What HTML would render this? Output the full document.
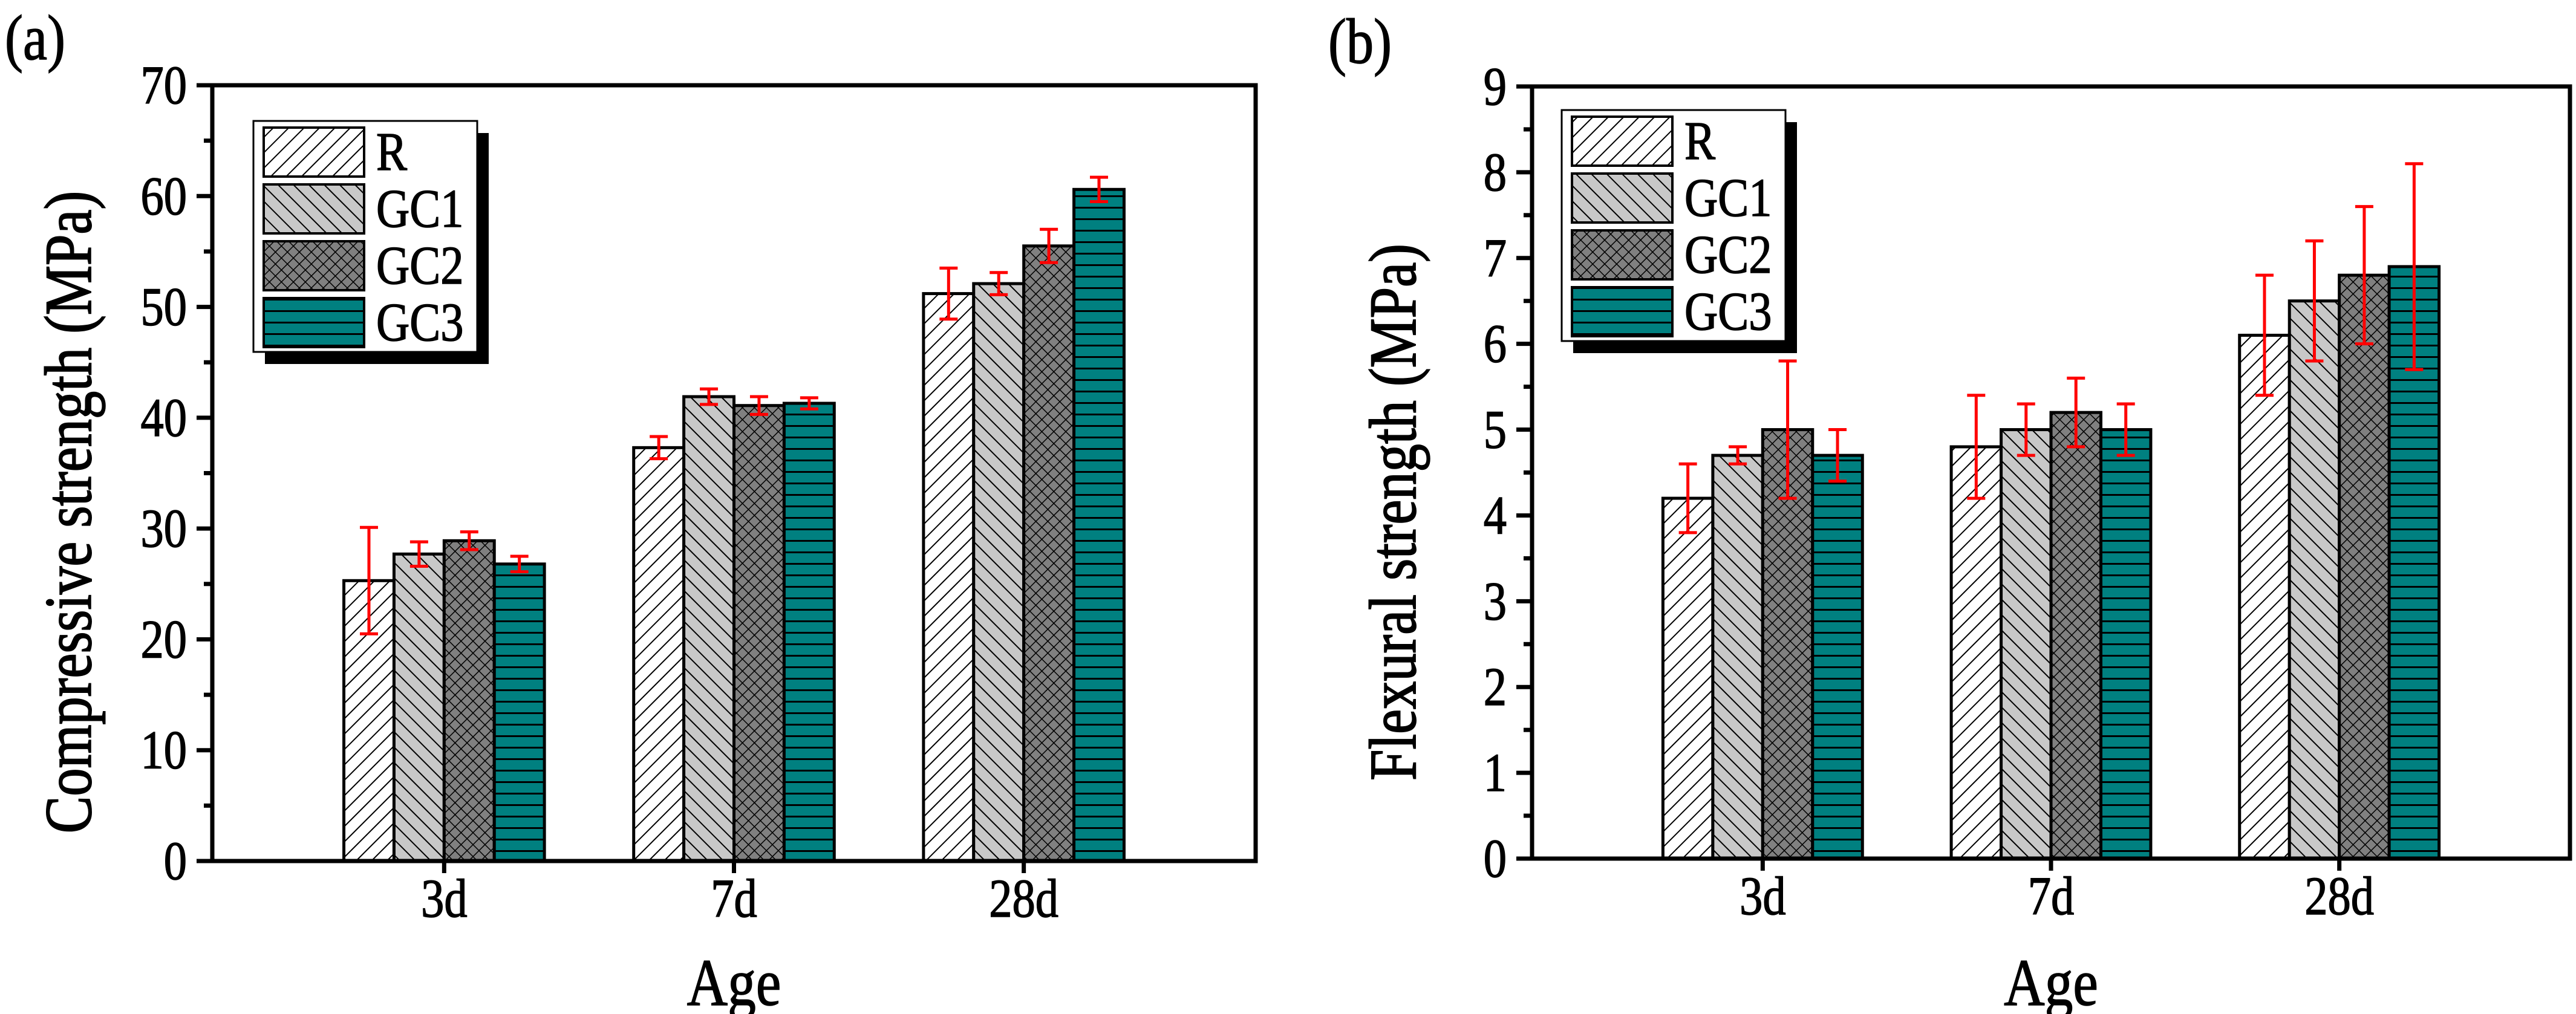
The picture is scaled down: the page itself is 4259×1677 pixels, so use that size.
<!DOCTYPE html>
<html><head><meta charset="utf-8">
<style>
html,body{margin:0;padding:0;background:#fff;}
svg{display:block;font-family:"Liberation Serif","Times New Roman",serif;}
</style></head>
<body>
<svg id="fig" width="4259" height="1677" viewBox="0 0 4259 1677" xmlns="http://www.w3.org/2000/svg">
<defs>
<pattern id="pR" patternUnits="userSpaceOnUse" width="18" height="18" patternTransform="rotate(45)"><rect width="18" height="18" fill="#fff"/><line x1="0" y1="0" x2="0" y2="18" stroke="#000" stroke-width="4"/></pattern>
<pattern id="pG1" patternUnits="userSpaceOnUse" width="18" height="18" patternTransform="rotate(-45)"><rect width="18" height="18" fill="#c8c8c8"/><line x1="0" y1="0" x2="0" y2="18" stroke="#000" stroke-width="4"/></pattern>
<pattern id="pG2" patternUnits="userSpaceOnUse" width="14" height="14" patternTransform="rotate(45)"><rect width="14" height="14" fill="#808080"/><line x1="0" y1="0" x2="0" y2="14" stroke="#000" stroke-width="3"/><line x1="0" y1="0" x2="14" y2="0" stroke="#000" stroke-width="3"/></pattern>
<pattern id="pG3" patternUnits="userSpaceOnUse" width="20" height="19"><rect width="20" height="19" fill="#008080"/><line x1="0" y1="1" x2="20" y2="1" stroke="#000" stroke-width="4"/></pattern>
</defs>
</svg>
<script>
const categories = ["3d","7d","28d"];
const seriesNames = ["R","GC1","GC2","GC3"];
const compValues = [[25.3,37.3,51.2],[27.7,41.9,52.1],[28.9,41.1,55.5],[26.8,41.3,60.6]];
const compErrors = [[4.8,1.0,2.3],[1.1,0.7,1.0],[0.8,0.8,1.5],[0.7,0.5,1.1]];
const flexValues = [[4.2,4.8,6.1],[4.7,5.0,6.5],[5.0,5.2,6.8],[4.7,5.0,6.9]];
const flexErrors = [[0.4,0.6,0.7],[0.1,0.3,0.7],[0.8,0.4,0.8],[0.3,0.3,1.2]];
const compTicks = [0,10,20,30,40,50,60,70];
const flexTicks = [0,1,2,3,4,5,6,7,8,9];

const NS = "http://www.w3.org/2000/svg";
const svg = document.getElementById("fig");
const fills = ["url(#pR)","url(#pG1)","url(#pG2)","url(#pG3)"];
function mk(tag, attrs, parent, text){
  const e = document.createElementNS(NS, tag);
  for (const k in attrs) e.setAttribute(k, attrs[k]);
  if (text !== undefined) e.textContent = text;
  (parent || svg).appendChild(e);
  return e;
}
function txt(parent, x, y, size, anchor, s, extra){
  return mk("text", {x:0, y:0, "font-size":size, "text-anchor":anchor, stroke:"#000", "stroke-width":1.5,
    transform:`translate(${x},${y}) ${extra||""} scale(0.85,1)`}, parent, s);
}

function panel(cfg){
  const g = mk("g", {});
  
  
  const {L,R,T,B,ymax,ticks,minorStep,values,errors} = cfg;
  const xmin = 0.2, xmax = 3.8;
  const xs = v => L + (v - xmin) / (xmax - xmin) * (R - L);
  const ys = v => B - v / ymax * (B - T);
  const bw = 0.173;
  values.forEach((ser, si) => {
    ser.forEach((v, ci) => {
      const x0 = xs(ci + 1 + (si - 2) * bw), x1 = xs(ci + 1 + (si - 1) * bw);
      const r = mk("rect", {x:x0, y:ys(v), width:x1-x0, height:B-ys(v), fill:fills[si], stroke:"#000", "stroke-width":5}, g);
      
      
    });
  });
  values.forEach((ser, si) => {
    ser.forEach((v, ci) => {
      const cx = xs(ci + 1 + (si - 1.5) * bw);
      const e = errors[si][ci];
      const eg = mk("g", {stroke:"#f00", "stroke-width":5, fill:"none"}, g);
      
      
      mk("line", {x1:cx, x2:cx, y1:ys(v+e), y2:ys(v-e)}, eg);
      mk("line", {x1:cx-15, x2:cx+15, y1:ys(v+e), y2:ys(v+e)}, eg);
      mk("line", {x1:cx-15, x2:cx+15, y1:ys(v-e), y2:ys(v-e)}, eg);
    });
  });
  const fr = mk("rect", {x:L, y:T, width:R-L, height:B-T, fill:"none", stroke:"#000", "stroke-width":7}, g);
  
  
  for (let v = 0; v <= ymax + 1e-9; v += minorStep) {
    const major = ticks.some(t => Math.abs(t - v) < 1e-6);
    mk("line", {x1:L - (major ? 26 : 14), x2:L, y1:ys(v), y2:ys(v), stroke:"#000", "stroke-width":7}, g);
  }
  ticks.forEach(t => {
    const tx = txt(g, L - 42, ys(t) + 30, 90, "end", String(t));
    
    
  });
  categories.forEach((c, ci) => {
    mk("line", {x1:xs(ci+1), x2:xs(ci+1), y1:B, y2:B+20, stroke:"#000", "stroke-width":7}, g);
    const tx = txt(g, xs(ci+1), B + 92, 90, "middle", c);
    
    
  });
  const xt = txt(g, (L+R)/2, 1662, 110, "middle", "Age");
  
  
  const yt = mk("text", {x:0, y:0, "font-size":110, "text-anchor":"middle", stroke:"#000", "stroke-width":2,
    transform:`translate(${cfg.ytx},847) rotate(-90) scale(0.84,1)`}, g, cfg.ytitle);
  
  
  const pl = txt(g, cfg.plx, cfg.ply, 106, "start", cfg.plabel);
  
  
  const lg = mk("g", {}, g);
  
  
  const lx = cfg.lx, ly = cfg.ly, lw = 370, lh = 382;
  mk("rect", {x:lx+19, y:ly+20, width:lw, height:lh, fill:"#000"}, lg);
  mk("rect", {x:lx, y:ly, width:lw, height:lh, fill:"#fff", stroke:"#000", "stroke-width":3}, lg);
  seriesNames.forEach((n, si) => {
    const ey = ly + 11 + si * 94;
    const le = mk("g", {}, lg);
    
    
    mk("rect", {x:lx+17, y:ey, width:166, height:81, fill:fills[si], stroke:"#000", "stroke-width":4}, le);
    txt(le, lx+203, ey+70, 90, "start", n);
  });
}

panel({name:"compressive-chart", L:351, R:2076, T:141, B:1424, ymax:70, ticks:compTicks, minorStep:5,
  values:compValues, errors:compErrors, ytitle:"Compressive strength (MPa)", ytx:150, plabel:"(a)", plx:8, ply:98, lx:419, ly:200});
panel({name:"flexural-chart", L:2533, R:4249, T:143, B:1420, ymax:9, ticks:flexTicks, minorStep:0.5,
  values:flexValues, errors:flexErrors, ytitle:"Flexural strength (MPa)", ytx:2340, plabel:"(b)", plx:2196, ply:104, lx:2582, ly:182});
</script>
</body></html>
